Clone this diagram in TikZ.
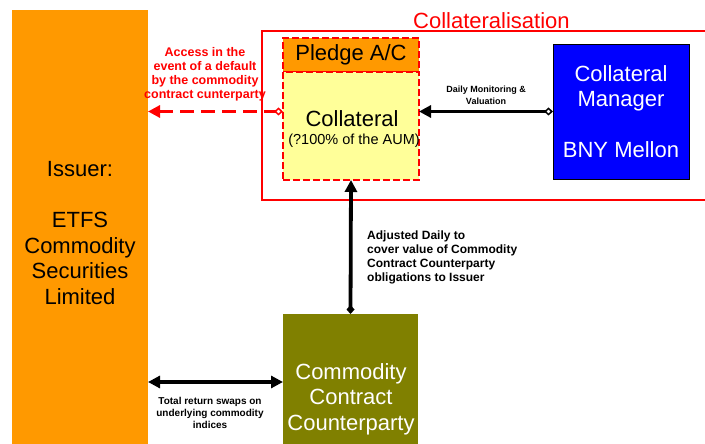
\documentclass[tikz,border=0pt]{standalone}
\usepackage{fontspec}
\setmainfont{Liberation Sans}
\usetikzlibrary{arrows.meta}
\definecolor{issuerorange}{RGB}{255,153,0}
\definecolor{collyellow}{RGB}{255,255,153}
\definecolor{mgrblue}{RGB}{0,0,255}
\definecolor{ccpolive}{RGB}{128,128,0}
\begin{document}
\begin{tikzpicture}[x=1pt,y=-1pt,
  box/.style={rectangle, inner sep=0pt, outer sep=0pt, anchor=north west},
  dashbox/.style={box, draw=red, line width=2pt, dash pattern=on 7pt off 3pt},
  bigtext/.style={font=\fontsize{22}{25.5}\selectfont, align=center},
  smalllabel/.style={font=\fontsize{9}{12}\selectfont\bfseries, align=center},
  midlabel/.style={font=\fontsize{12}{14}\selectfont\bfseries},
  flow/.style={line width=3.8pt},
  tip/.tip={Triangle[length=12pt,width=12pt]},
  tail/.tip={Diamond[length=9pt,width=8pt]}
]
\clip (0,0) rectangle (705,444);
\fill[white] (0,0) rectangle (705,444);

% Issuer
\node[box, fill=issuerorange, minimum width=136pt, minimum height=440pt] (issuer) at (12,10) {};
\node[bigtext] (issuertext) at (80,233) {Issuer:\\[25.5pt]ETFS\\Commodity\\Securities\\Limited};

% Collateralisation frame
\draw[red, line width=2pt] (720,31) -- (262,31) -- (262,200) -- (720,200);
\node[anchor=base west, text=red, font=\fontsize{22}{25}\selectfont, inner sep=0pt] (colltitle) at (413,29) {Collateralisation};

% Pledge and collateral
\node[dashbox, fill=issuerorange, minimum width=136pt, minimum height=34pt] (pledge) at (283,38) {};
\node[bigtext] at (pledge.center) {Pledge A/C};
\node[dashbox, fill=collyellow, minimum width=136pt, minimum height=108pt] (collateral) at (283,72) {};
\node[anchor=base, inner sep=0pt, font=\fontsize{22}{25}\selectfont] (colltext) at (352,127) {Collateral};
\node[anchor=base, inner sep=0pt, font=\fontsize{14.5}{16}\selectfont] (aumtext) at (354,145) {(?100\% of the AUM)};

% Collateral manager
\node[box, fill=mgrblue, draw=black, line width=0.8pt, minimum width=136pt, minimum height=135pt] (mgr) at (553,44) {};
\node[bigtext, text=white] (mgrtext) at (mgr.center) {Collateral\\Manager\\[25.5pt]BNY Mellon};

% Commodity contract counterparty
\node[box, fill=ccpolive, minimum width=135pt, minimum height=140pt] (ccp) at (283,314) {};
\node[bigtext, text=white] (ccptext) at (351,399) {Commodity\\Contract\\Counterparty};

% Connectors
\coordinate (swapy) at (0,382);
\draw[red, flow, dash pattern=on 14pt off 7pt, {tip}-{tail[fill=white, line width=1.5pt]}]
  (issuer.east |- mgr.west) -- (collateral.west |- mgr.west);
\draw[flow, {tip}-{tail[fill=white, line width=1.5pt]}]
  (collateral.east |- mgr.west) -- (mgr.west);
\draw[flow, {tail}-{tip}] (ccp.north) -- (collateral.south);
\draw[flow, {tip}-{tip}] (issuer.east |- swapy) -- (ccp.west |- swapy);

% Labels
\node[text=red, align=center, font=\fontsize{12.5}{14}\selectfont\bfseries] (accesslbl) at (205,74) {Access in the\\event of a default\\by the commodity\\contract cunterparty};
\node[smalllabel] (dailylbl) at (486,95) {Daily Monitoring \&\\Valuation};
\node[midlabel, align=left, anchor=north west, inner sep=0pt] (adjlbl) at (367,231) {Adjusted Daily to\\cover value of Commodity\\Contract Counterparty\\obligations to Issuer};
\node[smalllabel, font=\fontsize{10}{12}\selectfont\bfseries] (swaplbl) at (210,413) {Total return swaps on\\underlying commodity\\indices};
\end{tikzpicture}
\end{document}
